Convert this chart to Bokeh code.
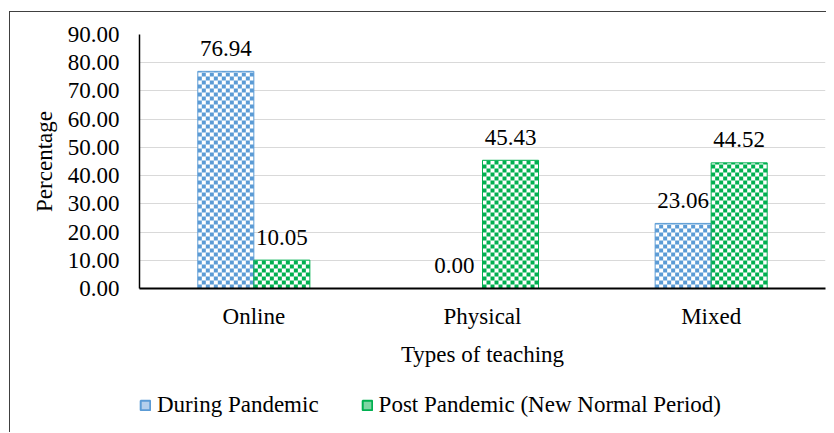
import math
from bokeh.plotting import figure
from bokeh.layouts import column
from bokeh.models import (ColumnDataSource, FactorRange, FixedTicker, PrintfTickFormatter,
                          Legend, LegendItem, Range1d)
from bokeh.core.properties import value
from bokeh.embed import file_html
from bokeh.resources import INLINE

categories = ["Online", "Physical", "Mixed"]
during = [76.94, 0.00, 23.06]
post = [10.05, 45.43, 44.52]
series_names = ["During Pandemic", "Post Pandemic (New Normal Period)"]
y_ticks = [0, 10, 20, 30, 40, 50, 60, 70, 80, 90]

FONT = "Liberation Serif"
FS = "23px"
BLUE = "#5B9BD5"
GREEN = "#00B050"

# geometry
W, H = 816, 370
ML, MR, MT, MB = 129, 1, 22, 94
FRAME_W = W - ML - MR
FRAME_H = H - MT - MB
Y_MAX = 90
N = len(categories)
BW = 0.245          # bar width in category units
CELL = 4            # checker cell size, px
cw = CELL * N / FRAME_W
ch = CELL * Y_MAX / FRAME_H


def checker_cells(values, offset):
    L, R, B, T = [], [], [], []
    for i, v in enumerate(values):
        left = i + 0.5 + offset - BW / 2
        ncol = int(round(BW / cw))
        cwi = BW / ncol
        nrow = int(math.ceil(v / ch - 1e-9))
        for r in range(nrow):
            b = r * ch
            t = min(v, b + ch)
            for c in range(ncol):
                if (r + c) % 2 == 0:
                    L.append(left + c * cwi)
                    R.append(left + (c + 1) * cwi)
                    B.append(b)
                    T.append(t)
    return ColumnDataSource(dict(left=L, right=R, bottom=B, top=T))


off = BW / 2
x_during = [i + 0.5 - off for i in range(N)]
x_post = [i + 0.5 + off for i in range(N)]

p = figure(x_range=FactorRange(*categories, range_padding=0), y_range=(0, Y_MAX),
           width=W, height=H, output_backend="svg", toolbar_location=None,
           min_border_left=ML, min_border_right=MR, min_border_top=MT, min_border_bottom=MB)
p.outline_line_color = None
p.border_fill_color = None

# white bar backgrounds
p.vbar(x=x_during, top=during, width=BW, fill_color="white", line_color=None)
p.vbar(x=x_post, top=post, width=BW, fill_color="white", line_color=None)
# checker cells
p.quad(source=checker_cells(during, -off), left="left", right="right", bottom="bottom", top="top",
       fill_color=BLUE, line_color=None)
p.quad(source=checker_cells(post, off), left="left", right="right", bottom="bottom", top="top",
       fill_color=GREEN, line_color=None)
# outlines
p.vbar(x=x_during, top=during, width=BW, fill_color=None, line_color=BLUE, line_width=1)
p.vbar(x=x_post, top=post, width=BW, fill_color=None, line_color=GREEN, line_width=1)

# data labels
p.text(x=x_during, y=during, text=[f"{v:.2f}" for v in during],
       text_font=value(FONT), text_font_size=FS, text_align="center",
       text_baseline="middle", y_offset=-23, text_color="black")
p.text(x=x_post, y=post, text=[f"{v:.2f}" for v in post],
       text_font=value(FONT), text_font_size=FS, text_align="center",
       text_baseline="middle", y_offset=-23, text_color="black")

p.xgrid.grid_line_color = None
p.ygrid.grid_line_color = "#D9D9D9"
p.ygrid.grid_line_width = 1
p.ygrid.ticker = FixedTicker(ticks=y_ticks)

p.yaxis.ticker = FixedTicker(ticks=y_ticks)
p.yaxis.formatter = PrintfTickFormatter(format="%.2f")
p.yaxis.axis_label = "Percentage"
p.xaxis.axis_label = "Types of teaching"
for ax in (p.xaxis, p.yaxis):
    ax.axis_label_text_font = FONT
    ax.axis_label_text_font_size = FS
    ax.axis_label_text_font_style = "normal"
    ax.axis_label_text_color = "black"
    ax.major_label_text_font = FONT
    ax.major_label_text_font_size = FS
    ax.major_label_text_color = "black"
    ax.major_tick_line_color = None
    ax.minor_tick_line_color = None
    ax.major_tick_out = 0
    ax.major_tick_in = 0
    ax.minor_tick_out = 0
    ax.axis_line_color = "black"
p.xaxis.axis_line_width = 2
p.yaxis.axis_line_width = 1.5
p.yaxis.major_label_standoff = 20
p.yaxis.axis_label_standoff = 8
p.xaxis.major_label_standoff = 15
p.xaxis.axis_label_standoff = 10

# legend strip (separate figure so the legend is not clipped by the main frame)
LH = 50
pl = figure(width=W, height=LH, output_backend="svg", toolbar_location=None,
            x_range=Range1d(0, 1), y_range=Range1d(0, 1),
            x_axis_location=None, y_axis_location=None,
            min_border_left=125, min_border_right=0, min_border_top=10, min_border_bottom=0)
pl.grid.grid_line_color = None
pl.outline_line_color = None
pl.border_fill_color = None
pl.background_fill_color = None
# legend proxies, kept outside the visible range
lg1 = pl.quad(left=[-3], right=[-2], bottom=[-3], top=[-2],
              fill_color="#B4CFEC", line_color=BLUE, line_width=2)
lg2 = pl.quad(left=[-3], right=[-2], bottom=[-3], top=[-2],
              fill_color="#7ED6A3", line_color=GREEN, line_width=2)
legend = Legend(items=[LegendItem(label=series_names[0], renderers=[lg1]),
                       LegendItem(label=series_names[1], renderers=[lg2])],
                orientation="horizontal", location="top_left",
                glyph_width=12, glyph_height=12, label_standoff=6, spacing=42,
                padding=0, margin=0, border_line_color=None, background_fill_alpha=0,
                label_text_font=FONT, label_text_font_size=FS, label_text_color="black")
pl.add_layout(legend, "center")

layout = column(p, pl, spacing=0,
                styles={"margin-left": "9px", "margin-top": "11px",
                        "border-left": "1px solid #404040", "border-top": "1px solid #404040"})

open("out.html", "w").write(file_html(layout, INLINE))
